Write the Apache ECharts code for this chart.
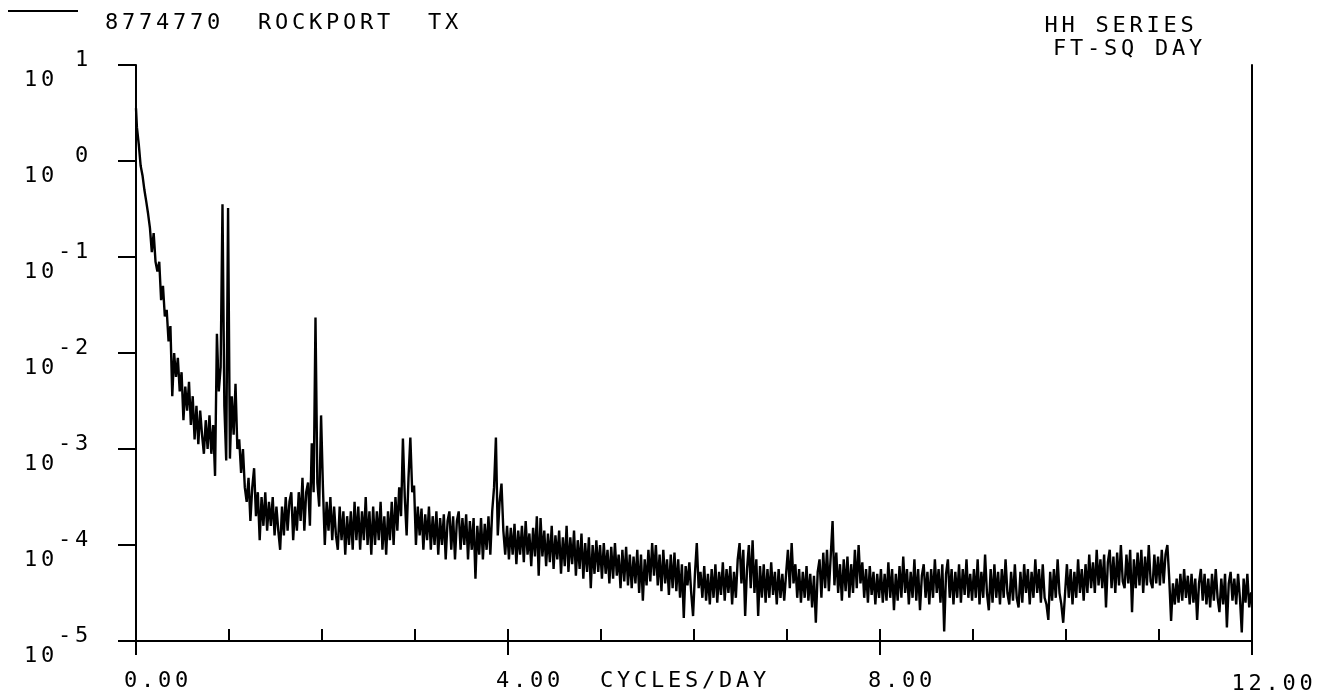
<!DOCTYPE html>
<html>
<head>
<meta charset="utf-8">
<script src="https://cdn.jsdelivr.net/npm/echarts@6/dist/echarts.min.js"></script>
<style>
html,body{margin:0;padding:0;background:#fff;}
#chart{width:1323px;height:698px;}
</style>
</head>
<body>
<div id="chart"></div>
<script>
// ---- texts ----
const stationTitle = '8774770  ROCKPORT  TX';
const seriesNote = ['HH SERIES', ' FT-SQ DAY'];
const xAxisName = 'CYCLES/DAY';
const xTickLabels = { 0: '0.00', 4: '4.00', 8: '8.00', 12: '12.00' };

// ---- spectrum: log10 of power (FT-SQ DAY), one array per 1 cycle/day band,
//      sampled every 0.02 cycles/day ----
const freqStep = 0.02;
const band0 = [0.55,0.35,0.17,-0.05,-0.15,-0.30,-0.42,-0.55,-0.70,-0.95,
  -0.75,-1.05,-1.15,-1.05,-1.45,-1.30,-1.62,-1.55,-1.88,-1.72,
  -2.45,-2.00,-2.25,-2.05,-2.40,-2.20,-2.70,-2.35,-2.60,-2.30,
  -2.75,-2.45,-2.90,-2.55,-2.95,-2.60,-2.85,-3.05,-2.70,-3.00,
  -2.65,-3.05,-2.75,-3.28,-1.80,-2.40,-2.15,-0.45,-2.55,-3.12];
const band1 = [-0.49,-3.10,-2.45,-2.85,-2.32,-3.00,-2.90,-3.25,-3.00,-3.40,
  -3.55,-3.30,-3.75,-3.40,-3.20,-3.70,-3.45,-3.95,-3.50,-3.80,
  -3.45,-3.85,-3.55,-3.80,-3.50,-3.90,-3.60,-3.85,-4.05,-3.60,
  -3.90,-3.50,-3.85,-3.55,-3.45,-3.95,-3.60,-3.85,-3.45,-3.75,
  -3.30,-3.85,-3.45,-3.35,-3.80,-2.94,-3.45,-1.63,-3.35,-3.60];
const band2 = [-2.65,-3.40,-4.00,-3.55,-3.85,-3.50,-3.95,-3.60,-3.90,-4.05,
  -3.60,-3.95,-3.65,-4.10,-3.70,-4.00,-3.65,-4.05,-3.55,-3.95,
  -3.60,-4.05,-3.65,-3.95,-3.50,-4.00,-3.65,-4.10,-3.60,-4.00,
  -3.65,-3.95,-3.55,-4.05,-3.70,-4.10,-3.65,-3.95,-3.55,-4.00,
  -3.50,-3.85,-3.40,-3.70,-2.89,-3.50,-3.90,-3.30,-2.88,-3.45];
const band3 = [-3.38,-4.00,-3.60,-3.90,-3.62,-4.05,-3.68,-3.95,-3.60,-4.05,
  -3.70,-4.00,-3.65,-4.10,-3.72,-4.00,-3.68,-4.15,-3.75,-3.65,
  -4.05,-3.70,-4.15,-3.75,-3.65,-4.05,-3.72,-4.00,-3.68,-4.15,
  -3.75,-4.05,-3.72,-4.35,-3.80,-4.10,-3.72,-4.15,-3.78,-4.05,
  -3.70,-4.10,-3.65,-3.40,-2.88,-3.90,-3.55,-3.36,-3.85,-4.10];
const band4 = [-3.80,-4.15,-3.82,-4.10,-3.78,-4.20,-3.85,-4.10,-3.80,-4.18,
  -3.75,-4.10,-3.88,-4.22,-3.82,-4.12,-3.70,-4.32,-3.72,-4.12,
  -3.85,-4.22,-3.88,-4.18,-3.80,-4.25,-3.90,-4.15,-3.85,-4.30,
  -3.92,-4.22,-3.80,-4.28,-3.92,-4.20,-3.85,-4.32,-3.95,-4.25,
  -3.88,-4.35,-3.98,-4.28,-3.92,-4.45,-4.00,-4.30,-3.95,-4.28];
const band5 = [-4.00,-4.35,-3.98,-4.30,-4.05,-4.40,-4.02,-4.35,-3.98,-4.32,
  -4.10,-4.45,-4.05,-4.38,-4.02,-4.42,-4.10,-4.45,-4.12,-4.40,
  -4.05,-4.50,-4.10,-4.58,-4.15,-4.42,-4.05,-4.38,-3.98,-4.32,
  -4.00,-4.42,-4.10,-4.48,-4.05,-4.40,-4.15,-4.52,-4.10,-4.45,
  -4.08,-4.48,-4.15,-4.55,-4.20,-4.76,-4.22,-4.42,-4.18,-4.50];
const band6 = [-4.74,-4.30,-3.98,-4.45,-4.28,-4.55,-4.22,-4.58,-4.30,-4.62,
  -4.25,-4.55,-4.20,-4.60,-4.28,-4.52,-4.18,-4.58,-4.25,-4.50,
  -4.22,-4.62,-4.28,-4.55,-4.15,-3.98,-4.40,-4.05,-4.74,-4.25,
  -4.00,-4.45,-3.95,-4.50,-4.15,-4.74,-4.22,-4.55,-4.20,-4.60,
  -4.25,-4.55,-4.18,-4.52,-4.28,-4.62,-4.25,-4.55,-4.30,-4.58];
const band7 = [-4.30,-4.05,-4.45,-3.98,-4.40,-4.20,-4.55,-4.25,-4.60,-4.28,
  -4.55,-4.22,-4.58,-4.30,-4.65,-4.32,-4.81,-4.28,-4.15,-4.55,
  -4.08,-4.45,-4.05,-4.48,-4.12,-3.75,-4.42,-4.08,-4.50,-4.20,
  -4.58,-4.15,-4.48,-4.12,-4.55,-4.20,-4.50,-4.05,-4.45,-4.00,
  -4.40,-4.18,-4.55,-4.25,-4.60,-4.22,-4.52,-4.28,-4.62,-4.30];
const band8 = [-4.55,-4.25,-4.60,-4.30,-4.58,-4.18,-4.55,-4.25,-4.68,-4.30,
  -4.58,-4.22,-4.55,-4.12,-4.50,-4.25,-4.62,-4.28,-4.55,-4.15,
  -4.58,-4.25,-4.68,-4.32,-4.20,-4.55,-4.28,-4.62,-4.25,-4.55,
  -4.15,-4.50,-4.25,-4.60,-4.20,-4.90,-4.30,-4.15,-4.55,-4.25,
  -4.62,-4.28,-4.55,-4.20,-4.60,-4.25,-4.52,-4.15,-4.55,-4.30];
const band9 = [-4.58,-4.25,-4.55,-4.15,-4.62,-4.28,-4.55,-4.10,-4.50,-4.68,
  -4.25,-4.60,-4.20,-4.55,-4.28,-4.62,-4.25,-4.55,-4.15,-4.50,
  -4.62,-4.28,-4.58,-4.20,-4.55,-4.65,-4.28,-4.60,-4.20,-4.50,
  -4.25,-4.62,-4.28,-4.55,-4.15,-4.50,-4.25,-4.60,-4.20,-4.55,
  -4.62,-4.78,-4.28,-4.58,-4.25,-4.55,-4.15,-4.50,-4.62,-4.81];
const band10 = [-4.50,-4.20,-4.55,-4.25,-4.62,-4.28,-4.55,-4.15,-4.50,-4.25,
  -4.58,-4.20,-4.50,-4.10,-4.45,-4.18,-4.50,-4.05,-4.42,-4.15,
  -4.45,-4.10,-4.65,-4.18,-4.05,-4.45,-4.12,-4.50,-4.08,-4.42,
  -4.00,-4.38,-4.45,-4.10,-4.40,-4.05,-4.70,-4.15,-4.45,-4.08,
  -4.42,-4.05,-4.50,-4.12,-4.42,-4.00,-4.38,-4.45,-4.10,-4.40];
const band11 = [-4.12,-4.42,-4.05,-4.40,-4.10,-4.00,-4.35,-4.79,-4.40,-4.62,
  -4.35,-4.60,-4.30,-4.58,-4.25,-4.55,-4.32,-4.62,-4.30,-4.60,
  -4.35,-4.78,-4.40,-4.25,-4.58,-4.30,-4.62,-4.35,-4.65,-4.30,
  -4.58,-4.25,-4.55,-4.70,-4.35,-4.62,-4.30,-4.86,-4.40,-4.28,
  -4.58,-4.35,-4.62,-4.30,-4.55,-4.91,-4.35,-4.60,-4.30,-4.65,
  -4.50];

const log10Power = [].concat(band0, band1, band2, band3, band4, band5, band6, band7, band8, band9, band10, band11);
const seriesData = log10Power.map((v, i) => [+(i * freqStep).toFixed(2), v]);

// ---- plotter-like monospaced text (fixed character cells) ----
function mono(str, style) {
  return str.split('\n').map(line =>
    line.split('').map(ch => '{' + style + '|' + ch + '}').join('')
  ).join('\n');
}
const FONT = 'DejaVu Sans Mono';
const cell = { fontFamily: FONT, fontSize: 22, fontWeight: 'normal', width: 17, align: 'center', color: '#000', lineHeight: 20 };
const richStyles = {
  m: cell,
  mLow: Object.assign({}, cell, { padding: [6, 0, 0, 0] }),
  t: Object.assign({}, cell, { lineHeight: 23 }),
  lg: Object.assign({}, cell, { lineHeight: 22, padding: [24, 0, 0, 0] })
};

const chart = echarts.init(document.getElementById('chart'), null, { renderer: 'canvas' });
chart.setOption({
  backgroundColor: '#fff',
  animation: false,
  title: {
    text: mono(seriesNote.join('\n'), 't'),
    left: 1034,
    top: 15,
    padding: 0,
    textStyle: { fontWeight: 'normal', rich: richStyles }
  },
  legend: {
    data: [stationTitle],
    left: 8,
    top: -12,
    padding: 0,
    icon: 'rect',
    itemWidth: 70,
    itemHeight: 2,
    selectedMode: false,
    formatter: name => mono(name, 'lg'),
    textStyle: { padding: [0, 0, 0, 20], rich: richStyles }
  },
  grid: { left: 136, right: 71, top: 65, bottom: 57, containLabel: false },
  xAxis: [
    {
      type: 'value', min: 0, max: 12, interval: 1,
      name: mono(xAxisName, 'm'),
      nameLocation: 'middle', nameGap: 30, nameMoveOverlap: false,
      nameTextStyle: { padding: [0, 22, 0, 0], rich: richStyles },
      axisLine: { show: true, onZero: false, lineStyle: { color: '#000', width: 2 } },
      axisTick: { show: true, inside: true, length: 12, lineStyle: { color: '#000', width: 2 } },
      axisLabel: {
        margin: 30,
        padding: [0, 0, 0, 40],
        formatter: v => (xTickLabels[v] !== undefined ? mono(xTickLabels[v], v === 12 ? 'mLow' : 'm') : ''),
        rich: richStyles
      },
      splitLine: { show: false }
    },
    {
      type: 'value', min: 0, max: 12, interval: 4, position: 'bottom',
      axisLine: { show: false, onZero: false },
      axisTick: { show: true, inside: false, length: 14, lineStyle: { color: '#000', width: 2 } },
      axisLabel: { show: false },
      splitLine: { show: false }
    }
  ],
  yAxis: [
    {
      type: 'value', min: -5, max: 1, interval: 1,
      axisLine: { show: true, onZero: false, lineStyle: { color: '#000', width: 2 } },
      axisTick: { show: true, inside: false, length: 18, lineStyle: { color: '#000', width: 2 } },
      axisLabel: {
        margin: 46,
        align: 'right',
        padding: [10, 0, 0, 0],
        formatter: v => mono('  ' + String(v).padStart(2, ' ') + '\n10  ', 'm'),
        rich: richStyles
      },
      splitLine: { show: false }
    },
    {
      type: 'value', min: -5, max: 1, interval: 1, position: 'right',
      axisLine: { show: true, onZero: false, lineStyle: { color: '#000', width: 2 } },
      axisTick: { show: false },
      axisLabel: { show: false },
      splitLine: { show: false }
    }
  ],
  series: [
    {
      name: stationTitle,
      type: 'line',
      step: 'middle',
      xAxisIndex: 0,
      yAxisIndex: 0,
      showSymbol: false,
      symbol: 'none',
      color: '#000',
      lineStyle: { color: '#000', width: 2.4 },
      data: seriesData
    }
  ]
});
</script>
</body>
</html>
